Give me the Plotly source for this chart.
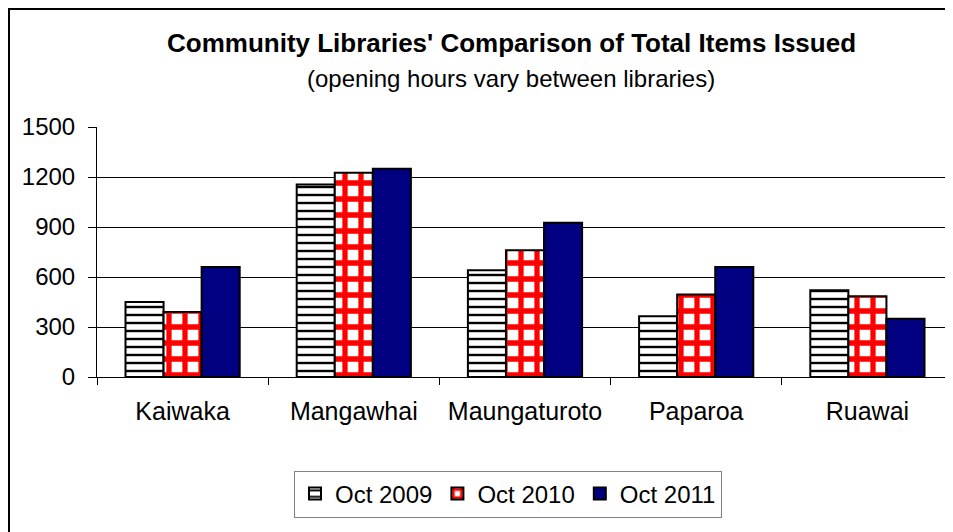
import plotly.graph_objects as go

# data
libraries = ['Kaiwaka', 'Mangawhai', 'Maungaturoto', 'Paparoa', 'Ruawai']
oct_2009 = [450, 1155, 640, 365, 520]
oct_2010 = [390, 1225, 760, 495, 485]
oct_2011 = [660, 1250, 925, 660, 350]

W, H = 953, 532
L, R, T, B = 89, 8, 119, 163
plot_w = W - L - R
plot_h = H - T - B


def px_x(x):
    return (x - L) / plot_w


def px_y(y):
    return (H - B - y) / plot_h


font = 'Liberation Sans, Arial, sans-serif'

fig = go.Figure()

fig.add_trace(go.Bar(
    x=libraries, y=oct_2009, name='Oct 2009',
    marker=dict(color='white', line=dict(color='black', width=2),
                pattern=dict(shape='-', fgcolor='black', bgcolor='white',
                             fgopacity=1, size=8, solidity=0.3)),
))
fig.add_trace(go.Bar(
    x=libraries, y=oct_2010, name='Oct 2010',
    marker=dict(color='white', line=dict(color='black', width=2),
                pattern=dict(shape='+', fgcolor='#FF0000', bgcolor='white',
                             fgopacity=1, size=16, solidity=0.55)),
))
fig.add_trace(go.Bar(
    x=libraries, y=oct_2011, name='Oct 2011',
    marker=dict(color='#000080', line=dict(color='black', width=2)),
))

fig.update_xaxes(
    showline=True, linecolor='black', linewidth=1,
    ticks='outside', tickson='boundaries', ticklen=7, tickcolor='black',
    tickfont=dict(size=25, color='black'),
    ticklabelstandoff=12,
    showgrid=False,
)
fig.update_yaxes(
    range=[0, 1500], dtick=300,
    showline=True, linecolor='black', linewidth=1,
    ticks='outside', ticklen=8, tickcolor='black',
    tickfont=dict(size=24, color='black'),
    ticklabelstandoff=8,
    showgrid=True, gridcolor='black', gridwidth=1,
    zeroline=False,
)

# outer chart border (only top and left visible in the crop)
fig.add_shape(type='rect', xref='paper', yref='paper',
              x0=px_x(1), x1=px_x(W + 20), y0=px_y(H + 20), y1=px_y(1),
              line=dict(color='black', width=2), layer='below')

fig.add_annotation(
    text="<b>Community Libraries' Comparison of Total Items Issued</b>",
    xref='paper', yref='paper', x=px_x(503), y=px_y(35),
    xanchor='center', yanchor='middle',
    showarrow=False, font=dict(size=26, color='black', family=font),
)
fig.add_annotation(
    text='(opening hours vary between libraries)',
    xref='paper', yref='paper', x=px_x(503), y=px_y(70),
    xanchor='center', yanchor='middle',
    showarrow=False, font=dict(size=24, color='black', family=font),
)

fig.update_layout(
    width=W, height=H,
    margin=dict(l=L, r=R, t=T, b=B),
    paper_bgcolor='white', plot_bgcolor='white',
    font=dict(family=font, color='black', size=24),
    barmode='group', bargap=0.333, bargroupgap=0,
    showlegend=True,
    legend=dict(
        orientation='h', xanchor='center', yanchor='middle',
        x=px_x(500), y=px_y(486),
        bordercolor='#808080', borderwidth=1, bgcolor='white',
        font=dict(size=24),
    ),
)

fig.write_html('out.html')
